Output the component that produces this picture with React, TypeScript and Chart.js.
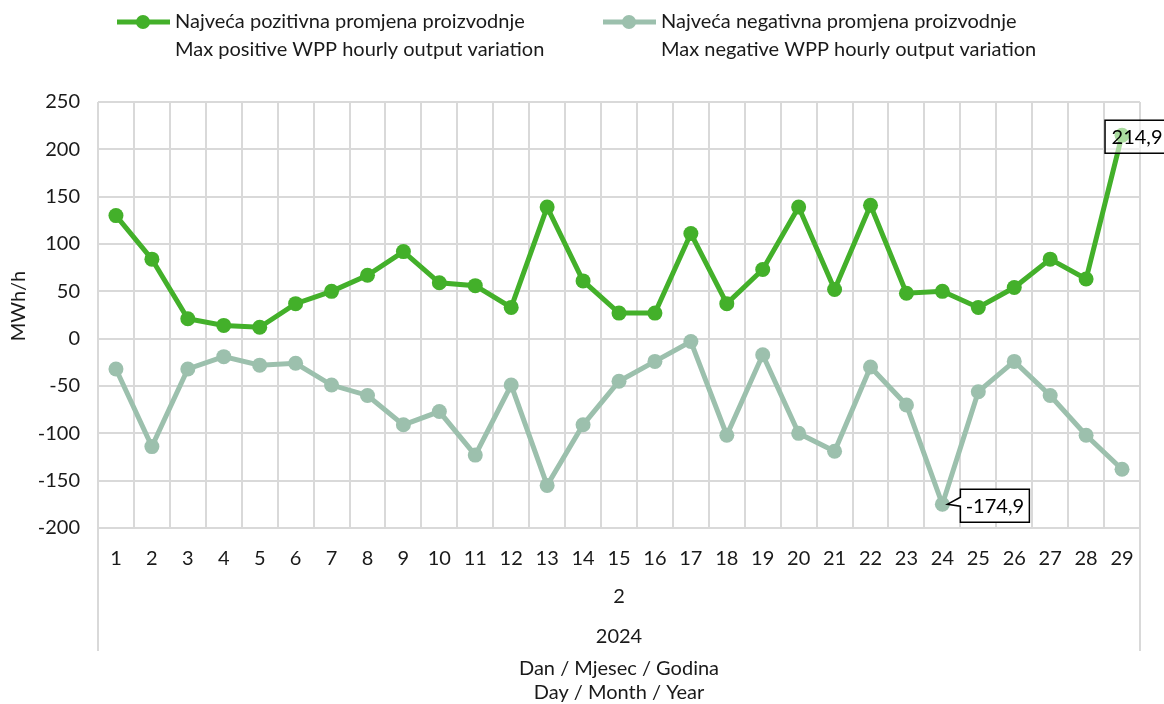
import React, { useEffect, useRef } from 'react';
import { Chart, registerables } from 'chart.js';
Chart.register(...registerables);

const days = ['1','2','3','4','5','6','7','8','9','10','11','12','13','14','15','16','17','18','19','20','21','22','23','24','25','26','27','28','29'];
const positiveValues = [130, 84, 21, 14, 12, 37, 50, 67, 92, 59, 56, 33, 139, 61, 27, 27, 111, 37, 73, 139, 52, 141, 48, 50, 33, 54, 84, 63, 214.9];
const negativeValues = [-32, -114, -32, -19, -28, -26, -49, -60, -91, -77, -123, -49, -155, -91, -45, -24, -3, -102, -17, -100, -119, -30, -70, -174.9, -56, -24, -60, -102, -138];
const positiveLabel = ['Najveća pozitivna promjena proizvodnje', 'Max positive WPP hourly output variation'];
const negativeLabel = ['Najveća negativna promjena proizvodnje', 'Max negative WPP hourly output variation'];
const monthLabel = '2';
const yearLabel = '2024';
const xTitle = ['Dan / Mjesec / Godina', 'Day / Month / Year'];
const yTitle = 'MWh/h';

const GREEN = '#43B02A';
const SAGE = '#9CC0AD';
const GRID = '#d9d9d9';
const TEXT = '#1a1a1a';
const FONT = 'Lato, "Open Sans", sans-serif';
const FS = 20;

const fmt = (v: number) => v.toFixed(1).replace('.', ',');

const extrasPlugin = {
  id: 'extras',
  afterDraw(chart: any) {
    const ctx = chart.ctx as CanvasRenderingContext2D;
    const area = chart.chartArea;
    const xs = chart.scales.x;
    const ys = chart.scales.y;
    ctx.save();
    // extended vertical borders
    ctx.strokeStyle = GRID;
    ctx.lineWidth = 2;
    ctx.beginPath();
    ctx.moveTo(area.left, area.bottom);
    ctx.lineTo(area.left, 651);
    ctx.moveTo(area.right, area.bottom);
    ctx.lineTo(area.right, 651);
    ctx.stroke();

    ctx.fillStyle = TEXT;
    ctx.textAlign = 'center';
    ctx.textBaseline = 'middle';
    ctx.font = `${FS}px ${FONT}`;
    const cx = (area.left + area.right) / 2;
    ctx.fillText(monthLabel, cx, 597);
    ctx.fillText(yearLabel, cx, 637);
    ctx.fillText(xTitle[0], cx, 669);
    ctx.fillText(xTitle[1], cx, 693);

    // y title
    ctx.save();
    ctx.translate(19, 306);
    ctx.rotate(-Math.PI / 2);
    ctx.fillText(yTitle, 0, 0);
    ctx.restore();

    // legend
    const legendItems = [
      { x: 117, color: GREEN, lines: positiveLabel },
      { x: 603, color: SAGE, lines: negativeLabel },
    ];
    legendItems.forEach((it) => {
      const ly = 22;
      ctx.strokeStyle = it.color;
      ctx.lineWidth = 5;
      ctx.beginPath();
      ctx.moveTo(it.x, ly);
      ctx.lineTo(it.x + 53, ly);
      ctx.stroke();
      ctx.fillStyle = it.color;
      ctx.beginPath();
      ctx.arc(it.x + 26, ly, 7, 0, Math.PI * 2);
      ctx.fill();
      ctx.fillStyle = TEXT;
      ctx.textAlign = 'left';
      ctx.font = `${FS}px ${FONT}`;
      ctx.fillText(it.lines[0], it.x + 58, ly);
      ctx.fillText(it.lines[1], it.x + 58, ly + 28);
    });

    // callouts
    ctx.font = `${FS}px ${FONT}`;
    ctx.textAlign = 'center';
    const pIdx = positiveValues.length - 1;
    const px = xs.getPixelForValue(pIdx);
    const py = ys.getPixelForValue(positiveValues[pIdx]);
    {
      const bx = px - 17, by = py - 15, bw = 62, bh = 33;
      ctx.fillStyle = 'rgba(255,255,255,0.55)';
      ctx.fillRect(bx, by, bw, bh);
      ctx.strokeStyle = '#000';
      ctx.lineWidth = 1.5;
      ctx.strokeRect(bx, by, bw, bh);
      ctx.fillStyle = '#000';
      ctx.fillText(fmt(positiveValues[pIdx]), bx + bw / 2 + 1, by + bh / 2 + 1);
    }
    let nIdx = 0;
    negativeValues.forEach((v, i) => { if (v < negativeValues[nIdx]) nIdx = i; });
    const nx = xs.getPixelForValue(nIdx);
    const ny = ys.getPixelForValue(negativeValues[nIdx]);
    {
      const bx = nx + 18, by = ny - 15, bw = 69, bh = 33;
      ctx.fillStyle = '#fff';
      ctx.strokeStyle = '#000';
      ctx.lineWidth = 1.5;
      ctx.beginPath();
      ctx.moveTo(bx, by);
      ctx.lineTo(bx + bw, by);
      ctx.lineTo(bx + bw, by + bh);
      ctx.lineTo(bx, by + bh);
      ctx.lineTo(bx, by + 17);
      ctx.lineTo(nx + 5, ny);
      ctx.lineTo(bx, by + 8);
      ctx.closePath();
      ctx.fill();
      ctx.stroke();
      ctx.fillStyle = '#000';
      ctx.fillText(fmt(negativeValues[nIdx]), bx + bw / 2, by + bh / 2 + 1);
    }
    ctx.restore();
  },
};

export default function App() {
  const ref = useRef<HTMLCanvasElement | null>(null);
  useEffect(() => {
    document.body.style.margin = '0';
    if (!ref.current) return;
    const chart = new Chart(ref.current, {
      type: 'line',
      data: {
        labels: days,
        datasets: [
          {
            label: positiveLabel.join(' '),
            data: positiveValues,
            borderColor: GREEN,
            backgroundColor: GREEN,
            borderWidth: 5,
            pointRadius: 7.5,
            pointBorderWidth: 0,
            pointBackgroundColor: GREEN,
            tension: 0,
          },
          {
            label: negativeLabel.join(' '),
            data: negativeValues,
            borderColor: SAGE,
            backgroundColor: SAGE,
            borderWidth: 5,
            pointRadius: 7.5,
            pointBorderWidth: 0,
            pointBackgroundColor: SAGE,
            tension: 0,
          },
        ],
      },
      options: {
        responsive: false,
        animation: false,
        devicePixelRatio: 1,
        layout: { padding: { top: 102, left: 0, right: 24, bottom: 0 } },
        plugins: { legend: { display: false }, tooltip: { enabled: false } },
        scales: {
          x: {
            type: 'category',
            offset: true,
            grid: { offset: true, color: GRID, lineWidth: 2, drawTicks: false },
            border: { display: true, color: GRID, width: 2 },
            ticks: { padding: 19, color: TEXT, font: { family: FONT, size: FS }, maxRotation: 0, autoSkip: false },
            afterFit: (s: any) => { s.height = 176; },
          },
          y: {
            min: -200,
            max: 250,
            grid: { color: GRID, lineWidth: 2, drawTicks: false },
            border: { display: false },
            ticks: { stepSize: 50, padding: 18, color: TEXT, font: { family: FONT, size: FS } },
            afterFit: (s: any) => { s.width = 98; },
          },
        },
      },
      plugins: [extrasPlugin],
    });
    return () => chart.destroy();
  }, []);
  return (
    <div style={{ width: 1164, height: 704 }}>
      <canvas ref={ref} width={1164} height={704} style={{ display: 'block' }} />
    </div>
  );
}
